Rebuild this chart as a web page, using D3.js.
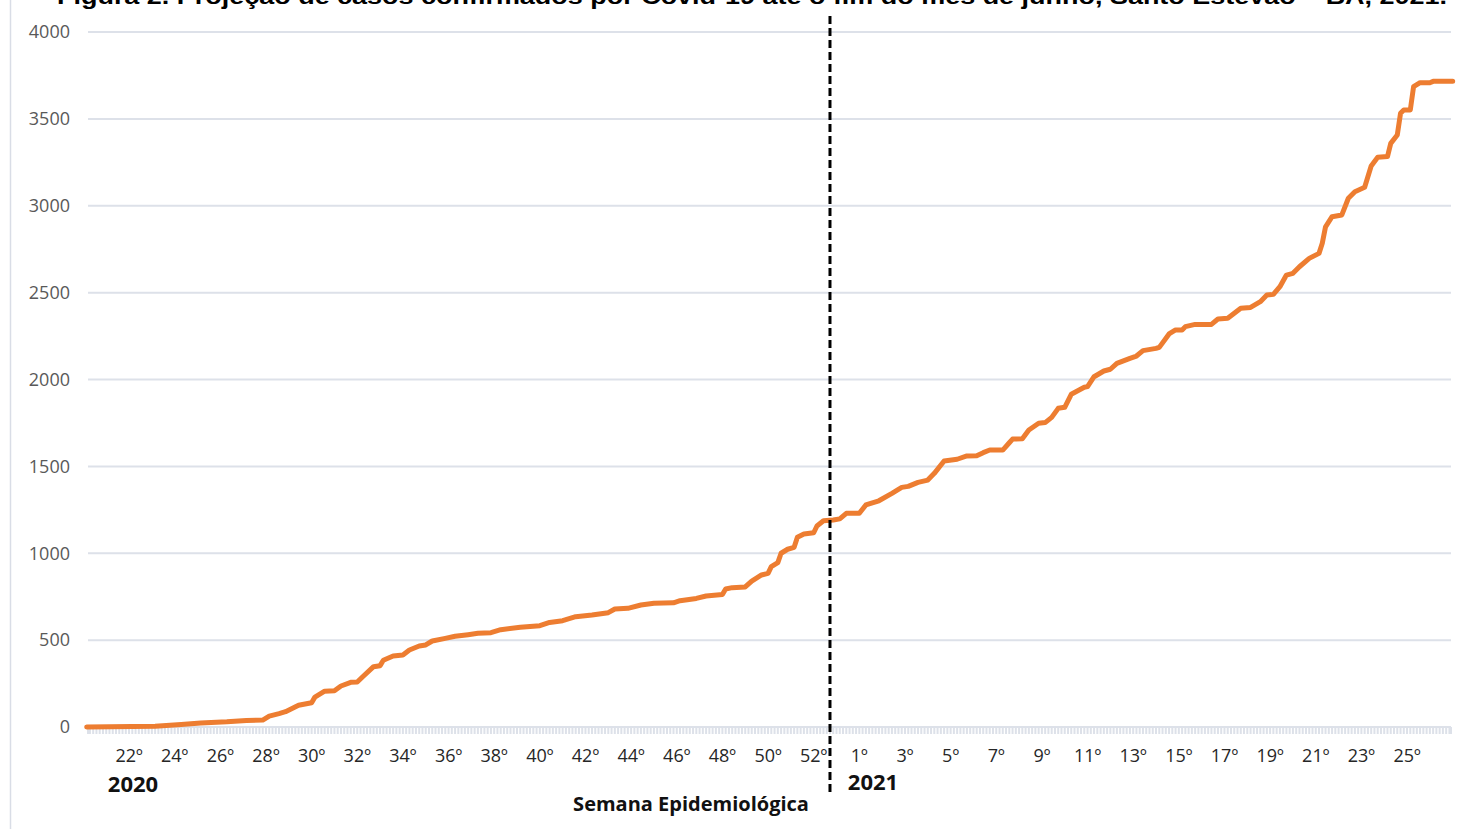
<!DOCTYPE html>
<html><head><meta charset="utf-8">
<script src="https://cdn.jsdelivr.net/npm/d3@7"></script>
<style>
html,body{margin:0;padding:0;background:#fff;}
svg{display:block;}
</style></head>
<body>
<svg id="chart" width="1483" height="829"></svg>
<script>
// Day offsets since 2020-05-10 (start of epi week 20, 2020) and cumulative confirmed cases
const dayOffsets = [1,22,30,36,44,50,55,57,60,62,66,70,71,74,77,79,82,84,86,89,91,92,95,98,100,103,105,107,111,114,118,121,125,128,134,140,143,147,151,156,161,163,167,171,175,181,183,188,191,196,197,199,203,205,208,210,211,213,214,216,218,219,221,224,225,227,230,232,234,238,240,244,248,251,253,256,259,261,264,268,271,274,276,278,282,284,285,288,290,293,295,297,299,301,303,307,308,310,313,315,317,321,323,325,329,330,333,335,337,338,341,346,348,351,353,355,358,361,363,365,367,369,371,373,376,379,380,381,383,386,388,390,393,395,397,400,401,403,404,405,407,408,410,413,414,420];
const cases = [0,5,15,23,30,38,40,63,77,88,125,140,172,206,209,236,257,259,295,347,353,384,409,414,443,466,472,495,510,522,531,539,543,560,574,583,602,612,635,645,658,679,683,702,712,715,727,740,754,762,794,802,806,840,875,884,923,946,1000,1023,1034,1092,1111,1118,1157,1187,1191,1198,1230,1230,1278,1302,1345,1379,1385,1408,1421,1460,1531,1541,1560,1561,1579,1594,1594,1636,1657,1659,1709,1748,1752,1782,1834,1840,1915,1955,1959,2016,2049,2059,2093,2122,2135,2166,2179,2185,2262,2285,2285,2304,2317,2317,2348,2352,2381,2410,2415,2448,2486,2490,2534,2601,2611,2649,2697,2726,2784,2879,2937,2947,3043,3081,3106,3229,3279,3283,3359,3407,3532,3551,3551,3685,3708,3708,3716,3716];

// Week tick labels: day offset of each labelled week's start, and its label
const weekTickDays = [14,28,42,56,70,84,98,112,126,140,154,168,182,196,210,224,238,252,266,280,294,308,322,336,350,364,378,392,406];
const weekTickLabels = ["22º","24º","26º","28º","30º","32º","34º","36º","38º","40º","42º","44º","46º","48º","50º","52º","1º","3º","5º","7º","9º","11º","13º","15º","17º","19º","21º","23º","25º"];
const yTicks = [0,500,1000,1500,2000,2500,3000,3500,4000];
const yearLabels = ["2020","2021"];
const yearDividerDay = 229;
const totalDays = 420;

const titleText = "Figura 2. Projeção de casos confirmados por Covid-19 até o fim do mês de junho, Santo Estêvão – BA, 2021.";
const xAxisTitle = "Semana Epidemiológica";

const svg = d3.select("#chart");
const x = d3.scaleLinear().domain([0, totalDays]).range([83.4, 83.4 + totalDays * 3.2602]);
const y = d3.scaleLinear().domain([0, 4000]).range([727, 32]);
const gridX0 = 88, gridX1 = 1451;
const labelFont = "'Open Sans', 'Noto Sans', sans-serif";

// left frame line
svg.append("line").attr("x1",10.5).attr("x2",10.5).attr("y1",0).attr("y2",829)
  .attr("stroke","#d9dde6").attr("stroke-width",1.5);

// title (cut off at top, as in the source figure)
svg.append("text").attr("x",57).attr("y",4)
  .attr("textLength",1390).attr("lengthAdjust","spacingAndGlyphs")
  .style("font-family","'Liberation Sans', Arial, sans-serif").style("font-weight","bold")
  .style("font-size","22px").attr("fill","#000").text(titleText);

// gridlines
svg.append("g").selectAll("line").data(yTicks).join("line")
  .attr("x1",gridX0).attr("x2",gridX1)
  .attr("y1",d=>y(d)).attr("y2",d=>y(d))
  .attr("stroke","#dde1e9").attr("stroke-width",2);

// y labels
svg.append("g").selectAll("text").data(yTicks).join("text")
  .attr("x",70).attr("y",d=>y(d)).attr("text-anchor","end").attr("dy","0.35em")
  .style("font-family",labelFont).style("font-size","18px")
  .attr("fill","#595959").text(d=>d);

// daily minor ticks along the x axis
const dayList = d3.range(0, totalDays + 1);
svg.append("g").selectAll("line").data(dayList).join("line")
  .attr("x1",d=>Math.max(gridX0, Math.min(gridX1, x(d)))).attr("x2",d=>Math.max(gridX0, Math.min(gridX1, x(d))))
  .attr("y1",y(0)).attr("y2",y(0)+7)
  .attr("stroke","#dde1e9").attr("stroke-width",2);

// week labels
svg.append("g").selectAll("text").data(weekTickDays).join("text")
  .attr("x",d=>x(d)).attr("y",762).attr("text-anchor","middle")
  .style("font-family",labelFont).style("font-size","18px")
  .attr("fill","#262626").text((d,i)=>weekTickLabels[i]);

// year labels
svg.append("text").attr("x",133).attr("y",792).attr("text-anchor","middle")
  .style("font-family",labelFont).style("font-weight","bold").style("font-size","22px")
  .attr("fill","#111").text(yearLabels[0]);
svg.append("text").attr("x",873).attr("y",790).attr("text-anchor","middle")
  .style("font-family",labelFont).style("font-weight","bold").style("font-size","22px")
  .attr("fill","#111").text(yearLabels[1]);

// x axis title
svg.append("text").attr("x",691).attr("y",811).attr("text-anchor","middle")
  .style("font-family",labelFont).style("font-weight","bold").style("font-size","20px")
  .attr("fill","#111").text(xAxisTitle);

// data line
const pts = dayOffsets.map((d,i)=>[d, cases[i]]);
svg.append("path").datum(pts)
  .attr("d", d3.line().x(d=>x(d[0])).y(d=>y(d[1])))
  .attr("fill","none").attr("stroke","#ED7D31").attr("stroke-width",5)
  .attr("stroke-linejoin","round").attr("stroke-linecap","round");

// year divider dashed line
svg.append("line").attr("x1",x(yearDividerDay)).attr("x2",x(yearDividerDay))
  .attr("y1",16).attr("y2",795)
  .attr("stroke","#000").attr("stroke-width",3).attr("stroke-dasharray","8,4");
</script>
</body></html>
